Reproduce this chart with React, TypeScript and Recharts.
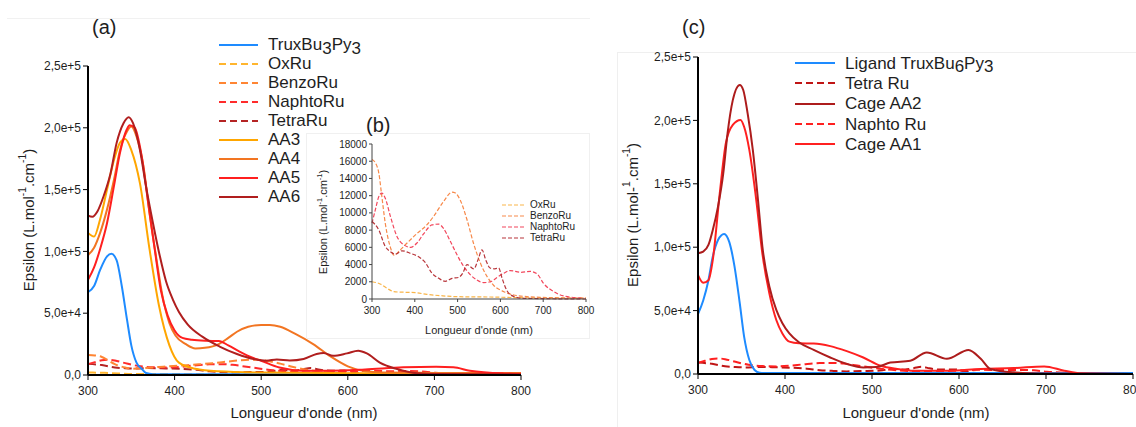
import React from 'react'
import { LineChart, Line, XAxis, YAxis, Legend } from 'recharts'

const FONT = 'Arial, "Liberation Sans", Helvetica, sans-serif'
const INK = '#1e1e1e'

// axes
const nmTicks = [300, 400, 500, 600, 700, 800]
const epsTicks = [0, 50000, 100000, 150000, 200000, 250000]
const epsTickLabels = ['0,0', '5,0e+4', '1,0e+5', '1,5e+5', '2,0e+5', '2,5e+5']
const insetTicks = [0, 2000, 4000, 6000, 8000, 10000, 12000, 14000, 16000, 18000]

// Ru complexes (dashed, shared by (a), (b) and (c))
const oxNm = [300, 319, 335, 351, 378, 401, 428, 460, 498, 576, 650, 720, 800]
const oxEps = [2000, 1750, 1250, 850, 780, 740, 540, 390, 270, 230, 150, 110, 90]
const benzoNm = [300, 308, 316, 323, 331, 343, 351, 366, 382, 405, 428, 444, 467, 487, 495, 506, 522, 537, 553, 569, 584, 608, 639, 693, 800]
const benzoEps = [16200, 15800, 14600, 11900, 8800, 6000, 5100, 5700, 6500, 7600, 8600, 9600, 11300, 12400, 12300, 11500, 9200, 6500, 4200, 2600, 1600, 850, 400, 200, 100]
const naphtoNm = [300, 308, 316, 323, 331, 343, 358, 374, 390, 405, 421, 440, 456, 467, 483, 499, 514, 530, 545, 561, 577, 592, 608, 623, 647, 670, 686, 701, 725, 748, 795]
const naphtoEps = [8800, 10400, 11900, 12300, 11700, 9600, 7300, 6300, 6000, 6500, 7600, 8600, 8700, 8200, 6700, 5100, 3800, 2800, 2200, 1900, 2000, 2500, 3000, 3300, 3100, 3200, 2900, 1800, 850, 350, 100]
const tetraNm = [300, 316, 331, 343, 355, 370, 390, 409, 425, 440, 456, 471, 487, 502, 512, 522, 538, 548, 557, 566, 576, 587, 596, 604, 615, 631, 654, 800]
const tetraEps = [9000, 8000, 6100, 5500, 5200, 5600, 5300, 4900, 4200, 3000, 2400, 2050, 2400, 2500, 3000, 4000, 3500, 4600, 5700, 4500, 3600, 3500, 3600, 2400, 1000, 300, 80, 0]

// panel (a) solid
const truxNm = [300, 307, 314, 322, 327, 333, 339, 345, 350, 356, 362, 367, 375, 400, 800]
const truxEps = [67000, 72000, 85000, 96000, 98000, 93000, 72000, 45000, 24000, 10000, 5000, 1600, 700, 600, 600]
const aa3Nm = [300, 307, 314, 322, 330, 337, 343, 350, 360, 371, 382, 394, 405, 424, 450, 500, 600, 700, 800]
const aa3Eps = [115000, 112000, 126000, 150000, 174000, 188000, 191000, 182000, 155000, 102000, 56000, 24000, 10000, 5000, 3000, 2000, 1500, 1500, 1500]
const aa4Nm = [300, 307, 314, 322, 330, 337, 345, 350, 356, 364, 371, 379, 386, 394, 401, 413, 424, 435, 451, 462, 472, 485, 500, 510, 522, 540, 560, 580, 600, 620, 640, 700, 800]
const aa4Eps = [97000, 103000, 115000, 134000, 158000, 182000, 197000, 201000, 193000, 169000, 131000, 94000, 64000, 42000, 32000, 25000, 21500, 22000, 25000, 30000, 35000, 39000, 40500, 40500, 39000, 33000, 25000, 15000, 7000, 3000, 2000, 1700, 1500]
const aa5Nm = [300, 307, 314, 322, 330, 337, 345, 348, 354, 362, 369, 377, 384, 392, 400, 409, 420, 436, 451, 462, 475, 490, 500, 521, 548, 580, 620, 664, 702, 722, 741, 780, 800]
const aa5Eps = [77000, 87000, 102000, 123000, 153000, 180000, 199000, 202000, 200000, 177000, 142000, 102000, 69000, 48000, 36000, 30000, 28500, 27700, 27500, 24000, 19000, 14000, 11500, 6000, 3500, 3500, 4500, 6200, 6700, 6200, 3500, 1300, 1000]
const aa6Nm = [300, 305, 311, 318, 326, 333, 341, 347, 352, 360, 367, 375, 383, 390, 398, 405, 415, 432, 452, 472, 491, 506, 518, 533, 549, 564, 572, 583, 599, 612, 622, 637, 656, 680, 703, 800]
const aa6Eps = [129000, 128000, 132500, 144600, 163000, 187600, 203700, 208600, 203700, 182000, 152600, 123000, 96000, 76000, 61000, 51000, 41000, 31000, 23000, 17000, 13000, 11600, 12500, 11800, 13000, 17000, 17800, 15500, 17500, 19700, 17500, 10000, 5000, 1400, 800, 500]

// panel (c) solid
const ligandNm = [300, 306, 312, 317, 323, 330, 336, 342, 348, 353, 359, 365, 371, 380, 800]
const ligandEps = [47300, 58000, 74000, 92600, 105700, 110500, 104000, 84700, 55800, 29500, 11000, 3200, 1000, 700, 700]
const cageAA2Nm = [300, 306, 312, 317, 323, 329, 334, 340, 348, 352, 357, 363, 369, 374, 382, 390, 397, 405, 416, 433, 452, 471, 490, 505, 521, 544, 563, 586, 611, 625, 636, 663, 700, 800]
const cageAA2Eps = [95200, 96500, 101800, 113600, 132000, 158000, 190000, 216000, 228000, 224000, 205700, 176700, 137000, 100500, 69000, 50500, 40000, 32000, 25000, 19000, 13000, 8000, 5200, 5500, 9000, 10500, 17000, 12000, 19000, 12000, 4000, 1300, 300, 0]
const cageAA1Nm = [300, 306, 312, 317, 325, 332, 340, 349, 353, 359, 367, 374, 382, 390, 397, 405, 416, 433, 452, 471, 490, 510, 529, 548, 587, 625, 663, 698, 721, 740, 800]
const cageAA1Eps = [78000, 72000, 74000, 90000, 142500, 182000, 196500, 200400, 195000, 176700, 137000, 95000, 63600, 42600, 32000, 25500, 24200, 24000, 22000, 18000, 13000, 6500, 4000, 2600, 2600, 4000, 4700, 6000, 2600, 500, 0]

const pts = (nm: number[], eps: number[]) => nm.map((x, i) => ({ nm: x, eps: eps[i] }))

type Part = { t: string; sup?: boolean }
const titleA: Part[] = [{ t: 'Epsilon (L.mol' }, { t: '-1', sup: true }, { t: '.cm' }, { t: '-1', sup: true }, { t: ')' }]
const titleC: Part[] = [{ t: 'Epsilon (L.mol-' }, { t: '1', sup: true }, { t: '.cm' }, { t: '-1', sup: true }, { t: ')' }]

function YTitle({ x, y, fs, parts }: { x: number; y: number; fs: number; parts: Part[] }) {
  let prev = false
  return (
    <text x={x} y={y} transform={`rotate(-90 ${x} ${y})`} textAnchor="middle" dominantBaseline="central"
      fontSize={fs} fontFamily={FONT} fill={INK}>
      {parts.map((p, i) => {
        const dy = p.sup && !prev ? -fs * 0.4 : !p.sup && prev ? fs * 0.4 : 0
        prev = !!p.sup
        return <tspan key={i} dy={dy} fontSize={p.sup ? fs * 0.68 : fs}>{p.t}</tspan>
      })}
    </text>
  )
}

function XTitle({ x, y, fs }: { x: number; y: number; fs: number }) {
  return (
    <text x={x} y={y} textAnchor="middle" dominantBaseline="central" fontSize={fs} fontFamily={FONT} fill={INK}>
      Longueur d'onde (nm)
    </text>
  )
}

const Sub = ({ children }: { children: React.ReactNode }) => (
  <span style={{ position: 'relative', top: '0.22em' }}>{children}</span>
)

type Item = { name: React.ReactNode; color: string; dash: boolean }

function LegendBox({ items, lineW, gap, rowH, fs, sw, dash }: {
  items: Item[]; lineW: number; gap: number; rowH: number; fs: number; sw: number; dash: string
}) {
  return (
    <div style={{ fontFamily: FONT, fontSize: fs, color: INK, lineHeight: 1 }}>
      {items.map((it, i) => (
        <div key={i} style={{ display: 'flex', alignItems: 'center', height: rowH }}>
          <svg width={lineW} height={6} style={{ display: 'block' }}>
            <line x1={0} y1={3} x2={lineW} y2={3} stroke={it.color} strokeWidth={sw}
              strokeDasharray={it.dash ? dash : undefined} />
          </svg>
          <span style={{ marginLeft: gap, whiteSpace: 'nowrap' }}>{it.name}</span>
        </div>
      ))}
    </div>
  )
}

const C = {
  blue: '#1e8bff', ox: '#ffb52e', benzo: '#ff8533', naphto: '#ff2b2b', tetra: '#b52424',
  aa3: '#ffa600', aa4: '#f27522', aa5: '#ff1f1f', aa6: '#b01e1e',
  iOx: '#f9b54a', iBenzo: '#f7894a', iNaphto: '#f2475c', iTetra: '#b8353a',
  cTetra: '#c01515', cAA2: '#ad1c1c', cNaphto: '#ff2020', cAA1: '#ff2020',
}

const legendA: Item[] = [
  { name: <>TruxBu<Sub>3</Sub>Py<Sub>3</Sub></>, color: C.blue, dash: false },
  { name: 'OxRu', color: C.ox, dash: true },
  { name: 'BenzoRu', color: C.benzo, dash: true },
  { name: 'NaphtoRu', color: C.naphto, dash: true },
  { name: 'TetraRu', color: C.tetra, dash: true },
  { name: 'AA3', color: C.aa3, dash: false },
  { name: 'AA4', color: C.aa4, dash: false },
  { name: 'AA5', color: C.aa5, dash: false },
  { name: 'AA6', color: C.aa6, dash: false },
]
const legendB: Item[] = [
  { name: 'OxRu', color: C.iOx, dash: true },
  { name: 'BenzoRu', color: C.iBenzo, dash: true },
  { name: 'NaphtoRu', color: C.iNaphto, dash: true },
  { name: 'TetraRu', color: C.iTetra, dash: true },
]
const legendC: Item[] = [
  { name: <>Ligand TruxBu<Sub>6</Sub>Py<Sub>3</Sub></>, color: C.blue, dash: false },
  { name: 'Tetra Ru', color: C.cTetra, dash: true },
  { name: 'Cage AA2', color: C.cAA2, dash: false },
  { name: 'Naphto Ru', color: C.cNaphto, dash: true },
  { name: 'Cage AA1', color: C.cAA1, dash: false },
]

const tickStyle = { fontSize: 12, fontFamily: FONT, fill: INK }
const axisBlack = { stroke: '#000', strokeWidth: 2 }

export default function App() {
  const dashed = '8 4'
  const line = (key: string, data: { nm: number; eps: number }[], color: string, dash?: string, w = 2) => (
    <Line key={key} data={data} dataKey="eps" name={key} type="monotone" stroke={color} strokeWidth={w}
      strokeDasharray={dash} dot={false} activeDot={false} isAnimationActive={false} />
  )

  return (
    <div style={{ position: 'absolute', left: 0, top: 0, width: 1136, height: 427, background: '#fff', overflow: 'hidden' }}>
      {/* faint panel frames */}
      <div style={{ position: 'absolute', left: 7, top: 18, width: 583, height: 0, borderTop: '1px solid #f1f1f1' }} />
      <div style={{ position: 'absolute', left: 617, top: 52, width: 530, height: 400, border: '1px solid #efefef' }} />

      {/* (a) */}
      <div style={{ position: 'absolute', left: 0, top: 0 }}>
        <LineChart width={540} height={427} margin={{ top: 66, right: 19, bottom: 22, left: 28 }}>
          <XAxis type="number" dataKey="nm" domain={[300, 800]} ticks={nmTicks} interval={0} height={30}
            tick={tickStyle} tickSize={5} tickMargin={6} axisLine={axisBlack} tickLine={{ stroke: '#000' }}
            label={() => <XTitle x={304} y={412} fs={15} />} />
          <YAxis type="number" domain={[0, 250000]} ticks={epsTicks} interval={0} width={60}
            tickFormatter={(v: number) => epsTickLabels[epsTicks.indexOf(v)]}
            tick={tickStyle} tickSize={5} axisLine={axisBlack} tickLine={{ stroke: '#000' }}
            label={() => <YTitle x={28} y={220} fs={15} parts={titleA} />} />
          {line('TetraRu', pts(tetraNm, tetraEps), C.tetra, dashed)}
          {line('NaphtoRu', pts(naphtoNm, naphtoEps), C.naphto, dashed)}
          {line('BenzoRu', pts(benzoNm, benzoEps), C.benzo, dashed)}
          {line('OxRu', pts(oxNm, oxEps), C.ox, dashed)}
          {line('TruxBu3Py3', pts(truxNm, truxEps), C.blue)}
          {line('AA3', pts(aa3Nm, aa3Eps), C.aa3)}
          {line('AA4', pts(aa4Nm, aa4Eps), C.aa4)}
          {line('AA5', pts(aa5Nm, aa5Eps), C.aa5)}
          {line('AA6', pts(aa6Nm, aa6Eps), C.aa6)}
          <Legend layout="vertical" align="center" verticalAlign="middle"
            wrapperStyle={{ left: 219, top: 35, width: 'auto' }}
            content={() => <LegendBox items={legendA} lineW={39} gap={10} rowH={19} fs={17} sw={2} dash="7 4" />} />
        </LineChart>
      </div>
      <div style={{ position: 'absolute', left: 92, top: 16, fontFamily: FONT, fontSize: 20, color: INK }}>(a)</div>

      {/* (b) inset */}
      <div style={{ position: 'absolute', left: 306, top: 133, width: 282, height: 204, background: '#fff', border: '1px solid #f0f0f0' }} />
      <div style={{ position: 'absolute', left: 300, top: 130 }}>
        <LineChart width={304} height={210} margin={{ top: 14, right: 18, bottom: 21, left: 32 }}>
          <XAxis type="number" dataKey="nm" domain={[300, 800]} ticks={nmTicks} interval={0} height={20}
            tick={{ ...tickStyle, fontSize: 10 }} tickSize={3} tickMargin={5} axisLine={{ stroke: '#444' }} tickLine={{ stroke: '#444' }}
            label={() => <XTitle x={179} y={200} fs={11} />} />
          <YAxis type="number" domain={[0, 18000]} ticks={insetTicks} interval={0} width={40}
            tick={{ ...tickStyle, fontSize: 10 }} tickSize={3} axisLine={{ stroke: '#444' }} tickLine={{ stroke: '#444' }}
            label={() => <YTitle x={23} y={92} fs={11} parts={titleA} />} />
          {line('OxRu', pts(oxNm, oxEps), C.iOx, '4 2', 1.2)}
          {line('BenzoRu', pts(benzoNm, benzoEps), C.iBenzo, '4 2', 1.2)}
          {line('NaphtoRu', pts(naphtoNm, naphtoEps), C.iNaphto, '4 2', 1.2)}
          {line('TetraRu', pts(tetraNm, tetraEps), C.iTetra, '4 2', 1.2)}
          <Legend layout="vertical" align="center" verticalAlign="middle"
            wrapperStyle={{ left: 202, top: 70, width: 'auto' }}
            content={() => <LegendBox items={legendB} lineW={23} gap={5} rowH={10.8} fs={10} sw={1.2} dash="4 2" />} />
        </LineChart>
      </div>
      <div style={{ position: 'absolute', left: 366, top: 114, fontFamily: FONT, fontSize: 20, color: INK }}>(b)</div>

      {/* (c) */}
      <div style={{ position: 'absolute', left: 600, top: 0 }}>
        <LineChart width={536} height={427} margin={{ top: 57, right: 3, bottom: 23, left: 38 }}>
          <XAxis type="number" dataKey="nm" domain={[300, 800]} ticks={nmTicks} interval={0} height={30}
            tick={tickStyle} tickSize={5} tickMargin={6} axisLine={axisBlack} tickLine={{ stroke: '#000' }}
            label={() => <XTitle x={316} y={412} fs={15} />} />
          <YAxis type="number" domain={[0, 250000]} ticks={epsTicks} interval={0} width={60}
            tickFormatter={(v: number) => epsTickLabels[epsTicks.indexOf(v)]}
            tick={tickStyle} tickSize={5} axisLine={axisBlack} tickLine={{ stroke: '#000' }}
            label={() => <YTitle x={32} y={215} fs={15} parts={titleC} />} />
          {line('Tetra Ru', pts(tetraNm, tetraEps), C.cTetra, dashed)}
          {line('Naphto Ru', pts(naphtoNm, naphtoEps), C.cNaphto, dashed)}
          {line('Ligand', pts(ligandNm, ligandEps), C.blue)}
          {line('Cage AA1', pts(cageAA1Nm, cageAA1Eps), C.cAA1)}
          {line('Cage AA2', pts(cageAA2Nm, cageAA2Eps), C.cAA2)}
          <Legend layout="vertical" align="center" verticalAlign="middle"
            wrapperStyle={{ left: 195, top: 53, width: 'auto' }}
            content={() => <LegendBox items={legendC} lineW={40} gap={10} rowH={20.3} fs={17} sw={2} dash="7 4" />} />
        </LineChart>
      </div>
      <div style={{ position: 'absolute', left: 682, top: 16, fontFamily: FONT, fontSize: 20, color: INK }}>(c)</div>
    </div>
  )
}
